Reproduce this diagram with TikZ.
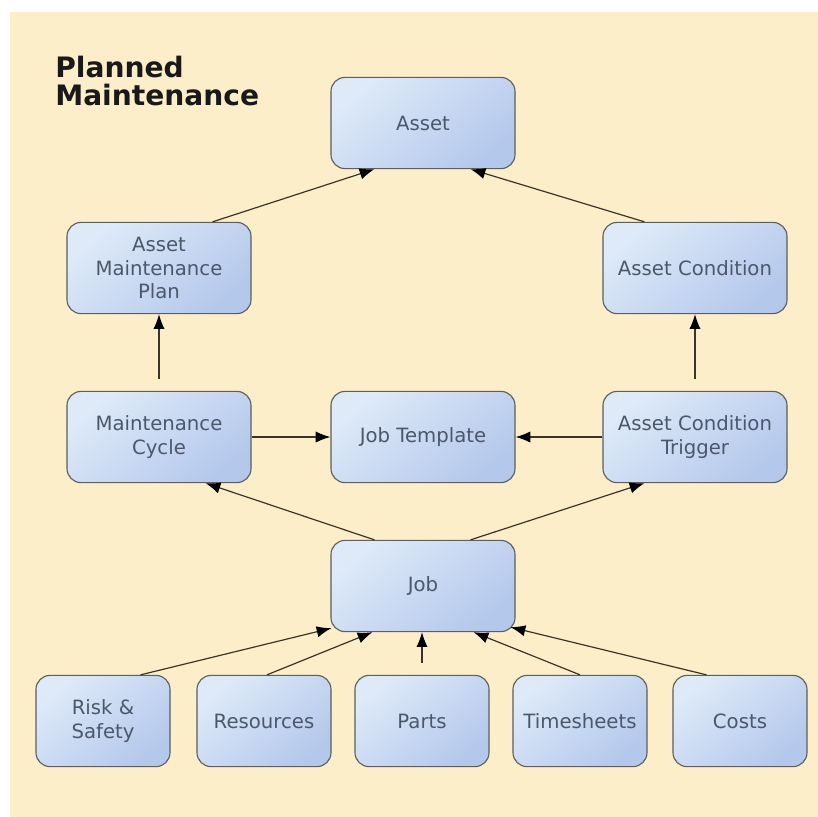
\documentclass[tikz,border=0pt]{standalone}
\usepackage{fontspec}
\setmainfont{DejaVu Sans}
\usetikzlibrary{arrows.meta,calc}

\definecolor{panel}{HTML}{FDEECA}
\definecolor{boxlight}{HTML}{DEEAF8}
\definecolor{boxdark}{HTML}{B4C8EC}
\definecolor{boxline}{HTML}{5E5E5E}
\definecolor{boxtext}{HTML}{4B586C}
\definecolor{linkline}{HTML}{3A3428}

\tikzset{
  box/.style={rectangle, rounded corners=10pt, draw=boxline, line width=0.8pt,
    top color=boxlight, bottom color=boxdark, shading angle=40,
    align=center, text=boxtext, font=\fontsize{14}{17}\selectfont,
    minimum width=4.6cm, minimum height=2.28cm},
  smallbox/.style={box, minimum width=3.35cm},
  link/.style={draw=linkline, line width=0.85pt,
    -{Latex[length=10.5pt,width=8pt,fill=black,color=black]}}
}

\begin{document}
\begin{tikzpicture}[x=0.025cm, y=-0.025cm]
  % Background
  \useasboundingbox (0,0) rectangle (818,817);
  \fill[panel] (10,12) rectangle (818,817);
  \node (title) [anchor=north west, align=left, inner sep=0pt, text=black!90,
    font=\fontsize{20}{20}\selectfont\bfseries] at (55,56) {Planned\\Maintenance};
  % Nodes
  \node (asset) [box] at (423,123) {Asset};
  \node (plan) [box] at (159,268) {Asset\\Maintenance\\Plan};
  \node (condition) [box] at (695,268) {Asset Condition};
  \node (cycle) [box] at (159,437) {Maintenance\\Cycle};
  \node (template) [box] at (423,437) {Job Template};
  \node (trigger) [box] at (695,437) {Asset Condition\\Trigger};
  \node (job) [box] at (423,586) {Job};
  \node (risk) [smallbox] at (103,721) {Risk \&\\Safety};
  \node (resources) [smallbox] at (264,721) {Resources};
  \node (parts) [smallbox] at (422,721) {Parts};
  \node (timesheets) [smallbox] at (580,721) {Timesheets};
  \node (costs) [smallbox] at (740,721) {Costs};
  % Arrow
  \draw[link] ($(plan.north east)+(-39,0)$) -- ($(asset.south west)+(44,0)$);
  \draw[link] ($(condition.north west)+(42,0)$) -- ($(asset.south east)+(-45,0)$);
  \draw[link, shorten <=8.5pt] (cycle) -- (plan);
  \draw[link, shorten <=8.5pt] (trigger) -- (condition);
  \draw[link] (cycle) -- (template);
  \draw[link] (trigger) -- (template);
  \draw[link] ($(job.north west)+(44,0)$) -- ($(cycle.south east)+(-46,0)$);
  \draw[link] ($(job.north east)+(-45,0)$) -- ($(trigger.south west)+(42,0)$);
  \draw[link] ($(risk.north east)+(-30,0)$) -- ($(job.south west)+(1,-4)$);
  \draw[link] ($(resources.north)+(3,0)$) -- ($(job.south west)+(42,0)$);
  \draw[link, shorten <=8.5pt] (parts) -- (parts |- job.south);
  \draw[link] (timesheets.north) -- ($(job.south east)+(-42,0)$);
  \draw[link] ($(costs.north west)+(34,0)$) -- ($(job.south east)+(-5,-5)$);
\end{tikzpicture}
\end{document}
